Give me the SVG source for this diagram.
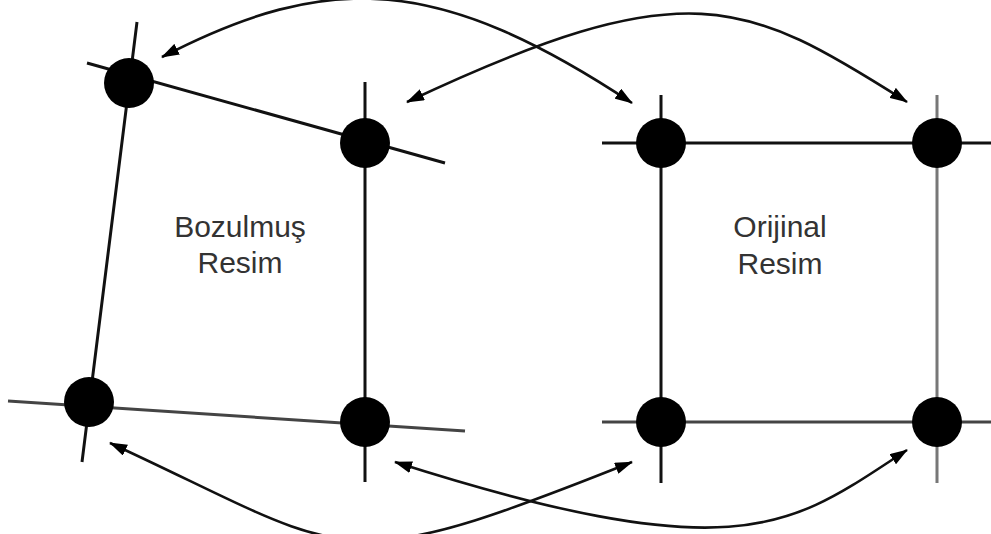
<svg xmlns="http://www.w3.org/2000/svg" width="991" height="534" viewBox="0 0 991 534">
<style>
.ln{stroke:#111;stroke-width:3;fill:none}
.gr{stroke:#777;stroke-width:3;fill:none}
.dk{stroke:#444;stroke-width:3;fill:none}
.pt{fill:#000}
.arc{stroke:#111;stroke-width:2.6;fill:none;marker-start:url(#ah);marker-end:url(#ah)}
.lbl{font-family:"Liberation Sans",Arial,sans-serif;font-size:30px;fill:#333;text-anchor:middle}
</style>
<defs>
<marker id="ah" viewBox="0 0 18 12" refX="17" refY="6" markerWidth="18" markerHeight="12" markerUnits="userSpaceOnUse" orient="auto-start-reverse">
<path d="M0,0 L18,6 L0,12 z" fill="#000"/>
</marker>
</defs>
<rect width="991" height="534" fill="#fff"/>
<g id="grid-lines">
<line class="ln" x1="87" y1="63" x2="445" y2="163"/>
<line class="ln" x1="137" y1="22" x2="82" y2="462"/>
<line class="ln" x1="365" y1="82" x2="365" y2="482"/>
<line class="dk" x1="8" y1="401" x2="465" y2="431"/>
<line class="ln" x1="602" y1="143" x2="991" y2="143"/>
<line class="dk" x1="602" y1="422" x2="991" y2="422"/>
<line class="ln" x1="661" y1="95" x2="661" y2="483"/>
<line class="gr" x1="937" y1="95" x2="937" y2="483"/>
</g>
<g id="distorted-tl"><circle class="pt" cx="129" cy="83" r="25"/></g>
<g id="distorted-tr"><circle class="pt" cx="365" cy="143" r="25"/></g>
<g id="distorted-bl"><circle class="pt" cx="89" cy="402" r="25"/></g>
<g id="distorted-br"><circle class="pt" cx="365" cy="422" r="25"/></g>
<g id="original-tl"><circle class="pt" cx="661" cy="143" r="25"/></g>
<g id="original-tr"><circle class="pt" cx="937" cy="143" r="25"/></g>
<g id="original-bl"><circle class="pt" cx="661" cy="422" r="25"/></g>
<g id="original-br"><circle class="pt" cx="937" cy="422" r="25"/></g>
<g id="label-distorted">
<text class="lbl" x="240" y="237">Bozulmuş</text>
<text class="lbl" x="240" y="273">Resim</text>
</g>
<g id="label-original">
<text class="lbl" x="780" y="237">Orijinal</text>
<text class="lbl" x="780" y="274">Resim</text>
</g>
<g id="connectors">
<path class="arc" d="M162,57 C330,-30 440,-24 632,103"/>
<path class="arc" d="M407,102 C687,-30 745,-1 907,102"/>
<path class="arc" d="M110,443 C355,556 331,582 632,462"/>
<path class="arc" d="M395,462 C746,574 793,524 907,450"/>
</g>
</svg>
